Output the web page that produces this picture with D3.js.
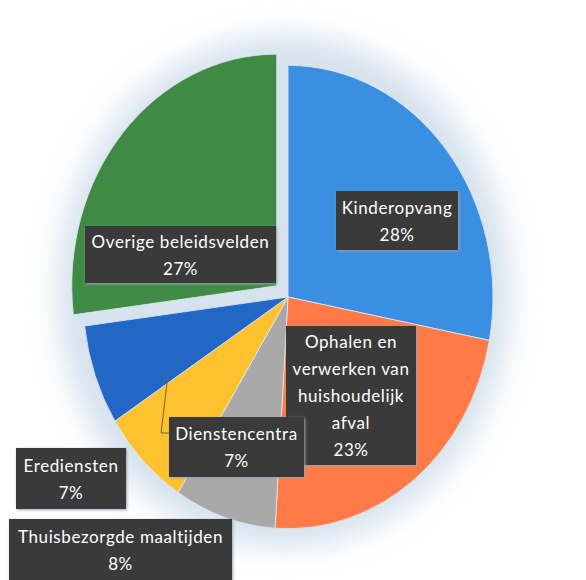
<!DOCTYPE html>
<meta charset="utf-8">
<style>
body, html {
  margin: 0;
  padding: 0;
  background: #fff;
}
.label {
  font: 17px Lato, "Open Sans", sans-serif;
  letter-spacing: 0.6px;
  fill: #fff;
  text-anchor: middle;
  dominant-baseline: central;
}
</style>
<div id="chart"></div>
<script src="https://d3js.org/d3.v7.min.js"></script>
<script>
// data, clockwise from 12 o'clock
const categories = ["Kinderopvang", "Ophalen en verwerken van huishoudelijk afval",
  "Thuisbezorgde maaltijden", "Dienstencentra", "Erediensten", "Overige beleidsvelden"]
const values = [28, 23, 8, 7, 7, 27]
const colors = ["#3b8fe2", "#ff7a46", "#a9a9a9", "#ffc12e", "#2266c6", "#3f8b45"]

// label boxes: lines of text, box position and size
const labelLines = [
  ["Kinderopvang"],
  ["Ophalen en", "verwerken van", "huishoudelijk", "afval"],
  ["Thuisbezorgde maaltijden"],
  ["Dienstencentra"],
  ["Erediensten"],
  ["Overige beleidsvelden"]
]
const labelBoxes = [
  [336, 191, 122, 59],
  [286, 326, 130, 139],
  [9, 519, 223, 62],
  [169, 417, 135, 60],
  [16, 448, 110, 61],
  [85, 226, 191, 57]
]

const width = 586
const height = 580
const cx = 288, cy = 297
const radius = 205
const squash = 1.13   // scan makes the pie a little taller than wide
const explode = 15    // green slice pulled out

const svg = d3.select("#chart").append("svg")
  .attr("width", width)
  .attr("height", height)

const defs = svg.append("defs")
defs.append("filter").attr("id", "glow")
  .attr("x", "-30%").attr("y", "-30%").attr("width", "160%").attr("height", "160%")
  .append("feGaussianBlur").attr("stdDeviation", 14)
defs.append("filter").attr("id", "shadow")
  .attr("x", "-10%").attr("y", "-10%").attr("width", "120%").attr("height", "120%")
  .append("feGaussianBlur").attr("stdDeviation", 1.5)

// soft bluish halo round the pie
svg.append("ellipse")
  .attr("cx", cx - 4).attr("cy", cy - 6)
  .attr("rx", radius + 22).attr("ry", radius * squash + 24)
  .attr("fill", "#d6e2ed")
  .attr("filter", "url(#glow)")

const pie = d3.pie().sort(null).value(d => d)
const arcs = pie(values)
const arc = d3.arc().innerRadius(0).outerRadius(radius)

const g = svg.append("g")
  .attr("transform", "translate(" + cx + "," + cy + ") scale(1," + squash + ")")

g.selectAll("path")
  .data(arcs)
  .enter().append("path")
  .attr("d", arc)
  .attr("fill", (d, i) => colors[i])
  .attr("stroke", "#dfe7ef")
  .attr("stroke-width", 0.8)
  .attr("transform", (d, i) => {
    if (i !== values.length - 1) return null
    const a = (d.startAngle + d.endAngle) / 2
    return "translate(" + Math.sin(a) * explode + "," + (-Math.cos(a) * explode) + ")"
  })

// leader line for Dienstencentra
svg.append("path")
  .attr("d", d3.line()([[168, 375], [161, 433], [170, 433]]))
  .attr("fill", "none")
  .attr("stroke", "#7a6035")
  .attr("stroke-width", 1)

const fmt = d3.format(".0%")
const total = d3.sum(values)
const lineH = 27

const labels = svg.selectAll("g.lab")
  .data(values)
  .enter().append("g")
  .attr("class", "lab")

labels.append("rect")
  .attr("x", (d, i) => labelBoxes[i][0] + 1)
  .attr("y", (d, i) => labelBoxes[i][1] + 1)
  .attr("width", (d, i) => labelBoxes[i][2])
  .attr("height", (d, i) => labelBoxes[i][3])
  .attr("fill", "#9aa4ad")
  .attr("filter", "url(#shadow)")

labels.append("rect")
  .attr("x", (d, i) => labelBoxes[i][0])
  .attr("y", (d, i) => labelBoxes[i][1])
  .attr("width", (d, i) => labelBoxes[i][2])
  .attr("height", (d, i) => labelBoxes[i][3])
  .attr("fill", "#3a3a3a")

labels.each(function(v, i) {
  const b = labelBoxes[i]
  const lines = labelLines[i].concat([fmt(v / total)])
  const top = b[1] + b[3] / 2 - (lines.length - 1) * lineH / 2
  d3.select(this).selectAll("text")
    .data(lines)
    .enter().append("text")
    .attr("class", "label")
    .attr("x", b[0] + b[2] / 2)
    .attr("y", (t, k) => top + k * lineH)
    .text(t => t)
})
</script>
